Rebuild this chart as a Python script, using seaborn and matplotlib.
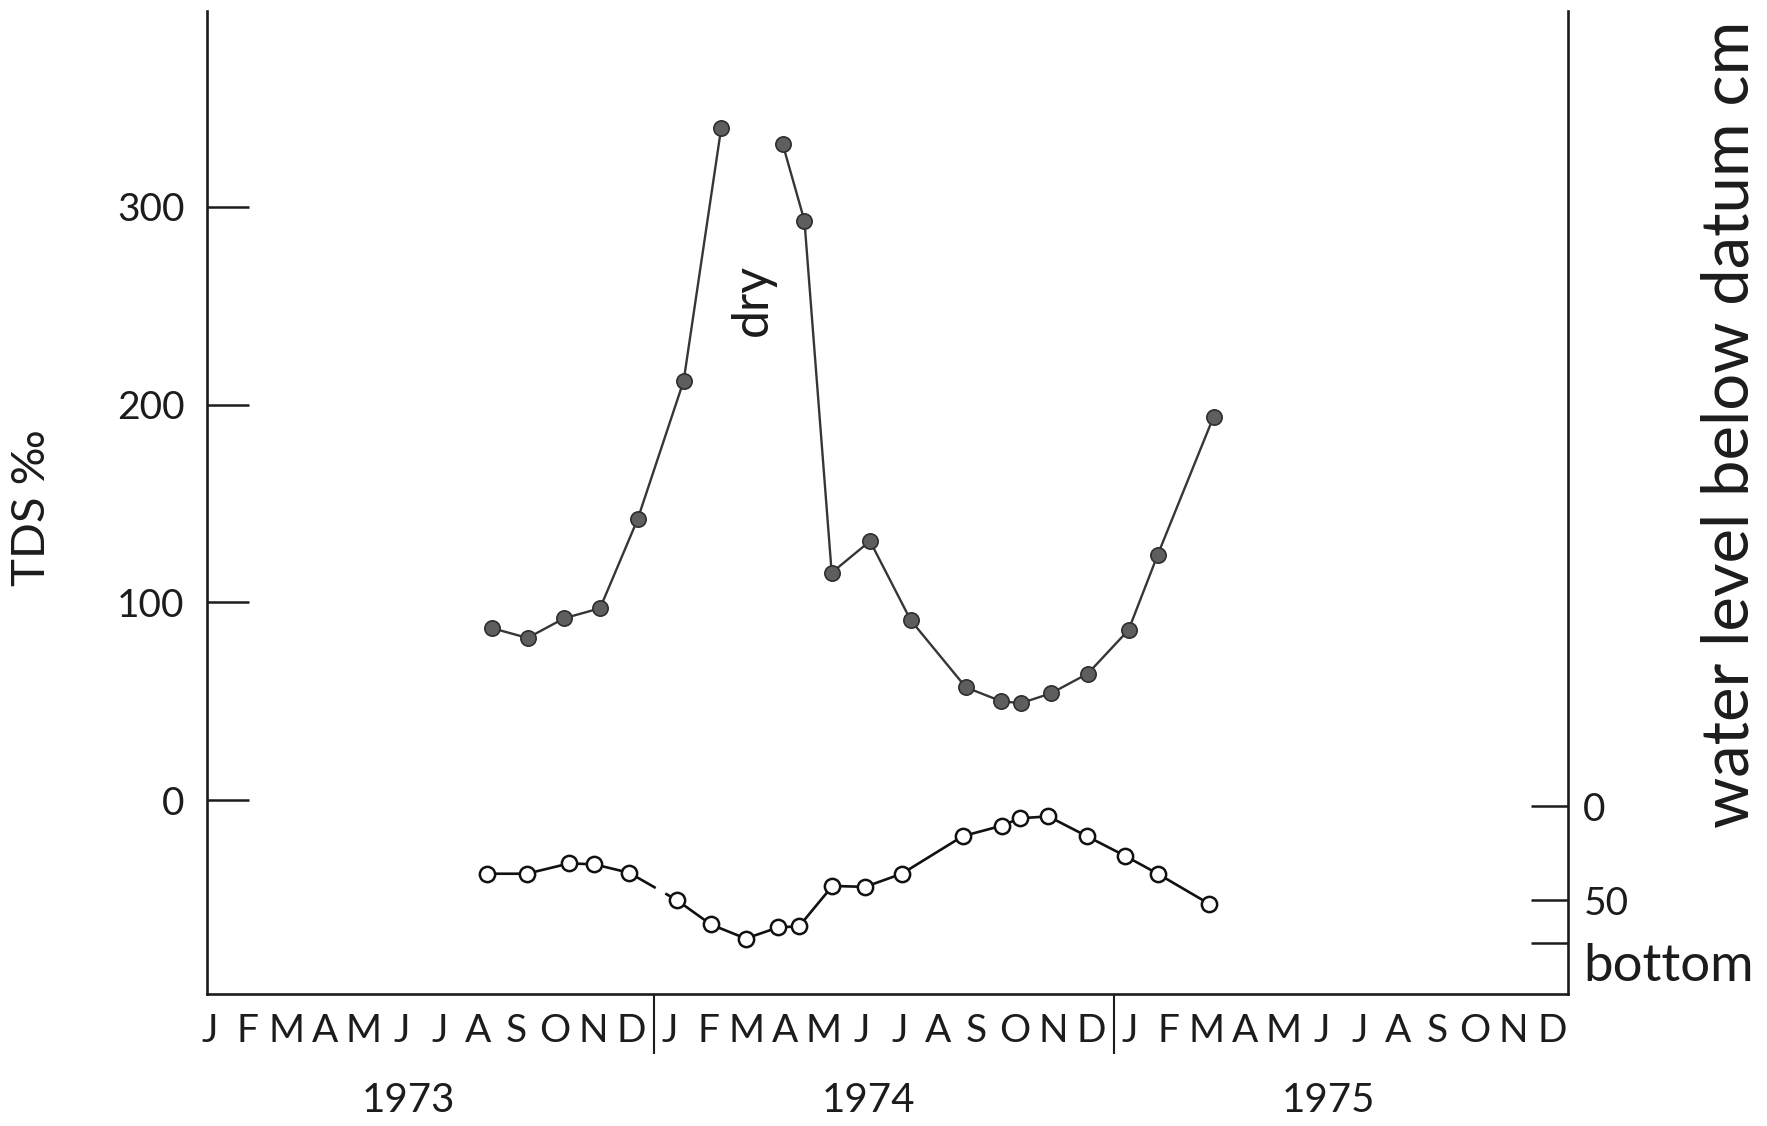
import matplotlib
matplotlib.use("Agg")
import matplotlib.pyplot as plt
import pandas as pd
import seaborn as sns

# Sampling times, in months counted from 1 January 1973
tds_months = [7.78, 8.71, 9.67, 10.60, 11.58, 12.78, 13.76,
              15.36, 15.93, 16.64, 17.64, 18.70, 20.14, 21.06,
              21.57, 22.36, 23.32, 24.38, 25.14, 26.60]
# Total dissolved solids (per mille)
tds_values = [87, 82, 92, 97, 142, 212, 340,
              332, 293, 115, 131, 91, 57, 50,
              49, 54, 64, 86, 124, 194]
# The lake was dry between the 7th and 8th samples
tds_run = [0] * 7 + [1] * 13

wl_months = [7.65, 8.69, 9.80, 10.45, 11.36, 12.60, 13.49, 14.40,
             15.25, 15.79, 16.66, 17.51, 18.47, 20.06, 21.07, 21.55,
             22.29, 23.29, 24.29, 25.14, 26.48]
# Water level below datum (cm)
wl_values = [36, 36, 30.5, 31, 35.5, 50, 63, 70.5,
             64.5, 64, 42.5, 43, 36, 16, 10.5, 6.5,
             5.5, 16, 26.5, 36, 52]
wl_run = [0] * 5 + [1] * 16

month_letters = list("JFMAMJJASOND")
years = ["1973", "1974", "1975"]
tds_ticks = [0, 100, 200, 300]
tds_tick_labels = ["0", "100", "200", "300"]
wl_ticks = [0, 50, 73]
wl_tick_labels = ["0", "50", "bottom"]

sns.set_theme(style="white")
plt.rcParams["font.family"] = ["Lato", "DejaVu Sans"]
plt.rcParams["lines.scale_dashes"] = False
ink = "#1c1c1c"

fig = plt.figure(figsize=(17.67, 11.26), dpi=100)
ax = fig.add_axes([0.1171, 0.1172, 0.7703, 0.8730])
ax2 = ax.twinx()

tds_df = pd.DataFrame({"month": tds_months, "tds": tds_values, "run": tds_run})
wl_df = pd.DataFrame({"month": wl_months, "level": wl_values, "run": wl_run})

# TDS: filled dots, broken where the lake dried out
sns.lineplot(data=tds_df, x="month", y="tds", units="run", estimator=None,
             ax=ax, color="#363636", linewidth=1.7, marker="o",
             markersize=11, markerfacecolor="#5e5e5e",
             markeredgecolor="#2e2e2e", markeredgewidth=1.2, legend=False)

# Water level: open circles on the right-hand (inverted) scale
bridge = wl_df.iloc[4:6]
sns.lineplot(data=bridge, x="month", y="level", estimator=None, ax=ax2,
             color="#111111", linewidth=1.9,
             linestyle=(0, (22, 8, 60)), legend=False)
sns.lineplot(data=wl_df, x="month", y="level", units="run", estimator=None,
             ax=ax2, color="#111111", linewidth=1.9, marker="o",
             markersize=11, markerfacecolor="white",
             markeredgecolor="#111111", markeredgewidth=1.8, legend=False)

ax.set_xlim(0.35, 35.84)
ax.set_ylim(-98.1, 399.1)
ax2.set_ylim(100.0, -422.9)

# Month letters between ticks, year dividers as long ticks
ax.set_xticks([12, 24], labels=["", ""])
month_pos = [y * 12 + m + 0.42 for y in range(3) for m in range(12)]
ax.set_xticks(month_pos, labels=month_letters * 3, minor=True)
ax.tick_params(axis="x", which="major", direction="out", length=43,
               width=1.5, color=ink, bottom=True)
ax.tick_params(axis="x", which="minor", length=0, pad=14,
               labelsize=28, labelcolor=ink, bottom=True)

for i, yr in enumerate(years):
    ax.text(i * 12 + 5.6, -0.108, yr, transform=ax.get_xaxis_transform(),
            ha="center", va="center", fontsize=29, color=ink)

ax.set_yticks(tds_ticks, labels=tds_tick_labels)
ax.tick_params(axis="y", direction="in", length=30, width=1.8,
               color=ink, pad=16, labelsize=28, labelcolor=ink, left=True)

ax2.set_yticks(wl_ticks, labels=wl_tick_labels)
ax2.tick_params(axis="y", direction="in", length=27, width=1.8,
                color=ink, pad=11, labelsize=28, labelcolor=ink, right=True)
wl_labels = ax2.get_yticklabels()
wl_labels[2].set_fontsize(38)
wl_labels[2].set_verticalalignment("top")

ax.set_xlabel("")
ax.set_ylabel("TDS ‰", fontsize=34, color=ink)
ax.yaxis.set_label_coords(-0.113, 0.495)
ax2.set_ylabel("water level below datum cm", fontsize=47, color=ink)
ax2.yaxis.set_label_coords(1.097, 0.58)

ax.text(14.59, 253, "dry", rotation=90, ha="center", va="center",
        fontsize=36, color=ink)

for side in ["left", "bottom"]:
    ax.spines[side].set_linewidth(1.9)
    ax.spines[side].set_color(ink)
ax.spines["top"].set_visible(False)
ax.spines["right"].set_visible(False)
for side in ["left", "bottom", "top"]:
    ax2.spines[side].set_visible(False)
ax2.spines["right"].set_linewidth(1.9)
ax2.spines["right"].set_color(ink)

fig.savefig("out.png", dpi=100)
